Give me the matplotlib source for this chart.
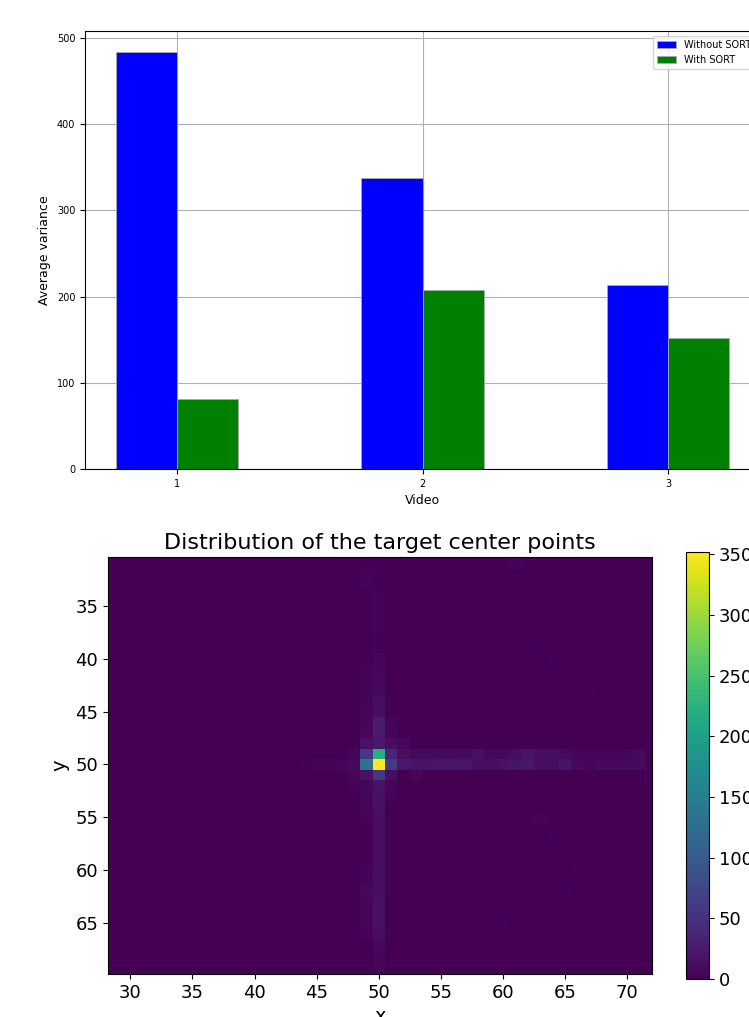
import numpy as np
import matplotlib.pyplot as plt

# ---- bar chart data ----
videos = [1, 2, 3]
without_sort = [484, 338, 214]
with_sort = [81, 208, 152]

# ---- heatmap data (counts per 1x1 cell, everything else is 0) ----
# row y=50
row50_x = [44, 45, 46, 47, 48, 49, 50, 51, 52, 53, 54, 55, 56, 57, 58, 59, 60, 61, 62, 63, 64, 65, 66, 67, 68, 69, 70, 71]
row50_n = [2, 3, 3, 5, 9, 130, 352, 60, 22, 18, 18, 21, 21, 20, 12, 12, 15, 18, 21, 12, 12, 18, 9, 5, 9, 9, 9, 9]
# row y=49
row49_x = [47, 48, 49, 50, 51, 52, 53, 54, 55, 56, 57, 58, 59, 60, 61, 62, 63, 64, 65, 66, 67, 68, 69, 70, 71]
row49_n = [2, 5, 55, 220, 35, 13, 9, 9, 9, 9, 9, 15, 7, 7, 12, 18, 12, 12, 9, 5, 5, 5, 5, 5, 9]
# column x=50 (rows other than 49, 50)
col50_y = [32, 33, 34, 35, 36, 37, 38, 39, 40, 41, 42, 43, 44, 45, 46, 47, 48,
           51, 52, 53, 54, 55, 56, 57, 58, 59, 60, 61, 62, 63, 64, 65, 66, 67, 68, 69]
col50_n = [2, 2, 4, 4, 4, 3, 2, 2, 6, 6, 7, 7, 11, 12, 26, 26, 22,
           55, 17, 15, 15, 12, 12, 12, 12, 11, 11, 12, 12, 14, 15, 14, 12, 9, 6, 6]
# column x=49
col49_y = [32, 33, 41, 42, 43, 44, 45, 46, 47, 48, 51, 52, 53, 54, 55, 60, 61, 62, 63, 64, 65, 66]
col49_n = [3, 3, 4, 4, 3, 4, 5, 6, 7, 16, 16, 6, 5, 5, 4, 4, 4, 9, 5, 5, 5, 4]
# column x=51
col51_y = [46, 47, 48, 51, 52, 53]
col51_n = [5, 6, 12, 12, 5, 3]
# scattered faint cells
extra_x = [48, 48, 52, 53, 61, 63, 64, 67, 63, 64, 65, 60, 66]
extra_y = [51, 52, 48, 51, 31, 39, 40, 43, 55, 57, 62, 65, 60]
extra_n = [6, 3, 7, 6, 3, 2, 2, 2, 3, 2, 2, 2, 2]

x_centers = np.arange(28, 73)
y_centers = np.arange(30, 71)

counts = np.zeros((len(y_centers), len(x_centers)))


def put(xs, ys, ns):
    for x, y, n in zip(xs, ys, ns):
        counts[y - y_centers[0], x - x_centers[0]] = n


put(row50_x, [50] * len(row50_x), row50_n)
put(row49_x, [49] * len(row49_x), row49_n)
put([50] * len(col50_y), col50_y, col50_n)
put([49] * len(col49_y), col49_y, col49_n)
put([51] * len(col51_y), col51_y, col51_n)
put(extra_x, extra_y, extra_n)

fig = plt.figure(figsize=(7.49, 10.17), dpi=100)

# ---- top: bar chart ----
ax1 = fig.add_axes([85 / 749, 1 - 469 / 1017, 675 / 749, 438 / 1017])
ax1.set_axisbelow(True)
w = 0.25
ax1.bar(np.array(videos) - w / 2, without_sort, width=w, color='blue',
        edgecolor='#aaaaaa', linewidth=0.6, label='Without SORT')
ax1.bar(np.array(videos) + w / 2, with_sort, width=w, color='green',
        edgecolor='#aaaaaa', linewidth=0.6, label='With SORT')
ax1.set_xticks(videos)
ax1.tick_params(labelsize=7)
ax1.set_xlabel('Video', fontsize=9)
ax1.set_ylabel('Average variance', fontsize=9)
ax1.grid(True)
ax1.legend(loc='upper right', fontsize=7)

# ---- bottom: heatmap ----
ax2 = fig.add_axes([108 / 749, 1 - 974 / 1017, 544 / 749, 417 / 1017])
x_edges = np.append(x_centers - 0.5, x_centers[-1] + 0.5)
y_edges = np.append(y_centers - 0.5, y_centers[-1] + 0.5)
mesh = ax2.pcolormesh(x_edges, y_edges, counts, cmap='viridis', vmin=0, vmax=352)
ax2.set_xlim(28.2, 72.0)
ax2.set_ylim(69.8, 30.4)
ax2.set_xticks(range(30, 71, 5))
ax2.set_yticks(range(35, 66, 5))
ax2.tick_params(labelsize=13)
ax2.set_title('Distribution of the target center points', fontsize=16)
ax2.set_xlabel('x', fontsize=14)
ax2.set_ylabel('y', fontsize=14)

cax = fig.add_axes([686 / 749, 1 - 979 / 1017, 23 / 749, 427 / 1017])
cb = fig.colorbar(mesh, cax=cax)
cb.set_ticks(range(0, 351, 50))
cb.ax.tick_params(labelsize=13)

fig.savefig('out.png', dpi=100)
